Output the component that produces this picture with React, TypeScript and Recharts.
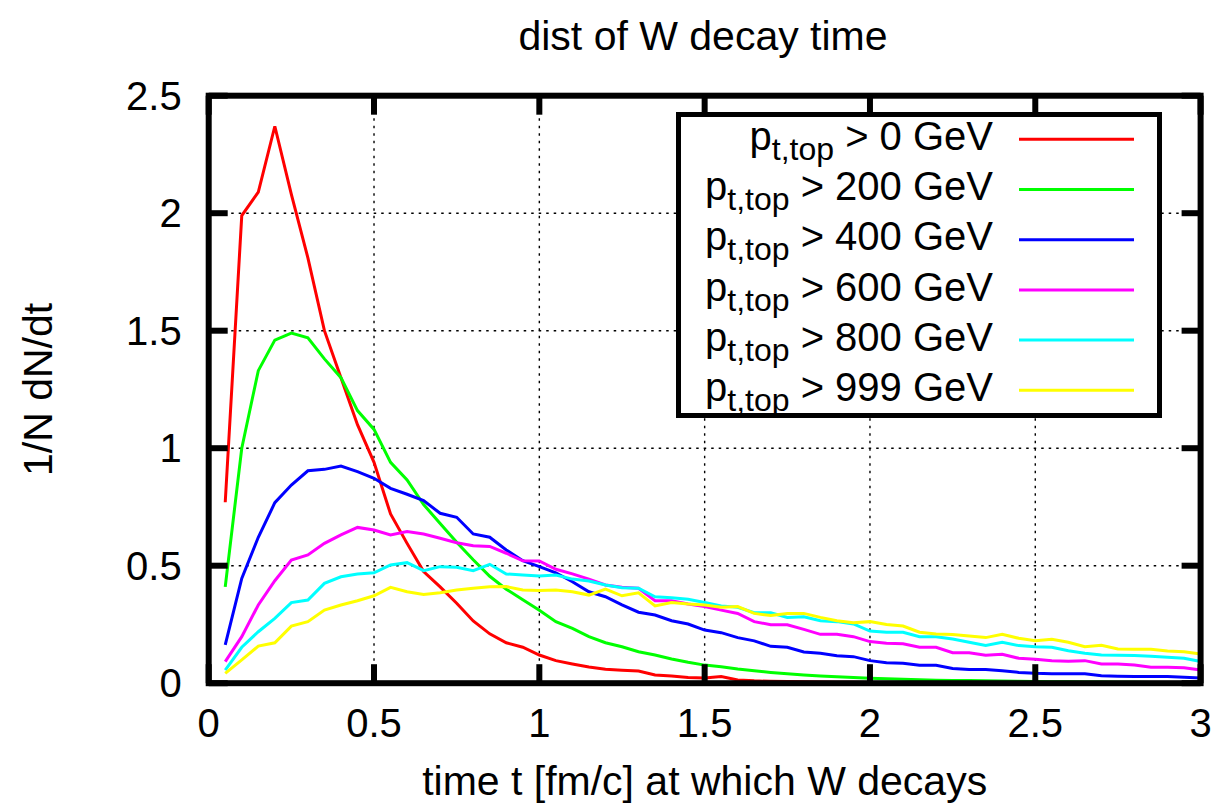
import React from 'react';
import { LineChart, Line, XAxis, YAxis, CartesianGrid } from 'recharts';

const T = [0.05,0.1,0.15,0.2,0.25,0.3,0.35,0.4,0.45,0.5,0.55,0.6,0.65,0.7,0.75,0.8,0.85,0.9,0.95,1,1.05,1.1,1.15,1.2,1.25,1.3,1.35,1.4,1.45,1.5,1.55,1.6,1.65,1.7,1.75,1.8,1.85,1.9,1.95,2,2.05,2.1,2.15,2.2,2.25,2.3,2.35,2.4,2.45,2.5,2.55,2.6,2.65,2.7,2.75,2.8,2.85,2.9,2.95,3];

const RED = [0.77,1.99,2.09,2.37,2.08,1.81,1.50,1.30,1.10,0.94,
0.72,0.595,0.475,0.41,0.34,0.265,0.21,0.172,0.153,0.12,
0.096,0.082,0.069,0.059,0.055,0.052,0.035,0.031,0.024,0.022,
0.028,0.014,0.01,0.008,0.007,0.006,0.005,0.004,0.004,0.003,
0.003,0.002,0.002,0.002,0.002,0.001,0.001,0.001,0.001,0.001,
0.001,0.001,0.001,0.0005,0.0005,0.0005,0.0005,0.0005,0.0005,0.0005];

const GREEN = [0.41,1.00,1.33,1.46,1.49,1.47,1.38,1.30,1.16,1.08,
0.94,0.865,0.76,0.68,0.60,0.525,0.455,0.40,0.355,0.31,
0.262,0.233,0.198,0.172,0.155,0.134,0.12,0.103,0.089,0.077,
0.07,0.06,0.053,0.046,0.04,0.035,0.031,0.027,0.024,0.021,
0.019,0.017,0.015,0.013,0.012,0.011,0.01,0.009,0.008,0.007,
0.006,0.006,0.005,0.005,0.004,0.004,0.003,0.003,0.003,0.003];

const BLUE = [0.163,0.446,0.621,0.768,0.843,0.904,0.91,0.924,0.90,0.872,
0.829,0.804,0.777,0.723,0.706,0.635,0.621,0.567,0.521,0.496,
0.47,0.432,0.389,0.368,0.333,0.302,0.29,0.266,0.252,0.226,
0.215,0.194,0.18,0.157,0.153,0.133,0.127,0.117,0.113,0.096,
0.087,0.085,0.076,0.076,0.063,0.058,0.058,0.053,0.046,0.042,
0.04,0.04,0.04,0.032,0.03,0.028,0.028,0.028,0.025,0.022];

const MAGENTA = [0.092,0.198,0.333,0.436,0.524,0.546,0.595,0.631,0.663,0.652,
0.631,0.645,0.635,0.617,0.598,0.585,0.582,0.553,0.521,0.52,
0.485,0.465,0.443,0.418,0.408,0.404,0.351,0.351,0.337,0.326,
0.311,0.297,0.262,0.249,0.249,0.229,0.208,0.208,0.198,0.177,
0.17,0.168,0.153,0.153,0.13,0.13,0.119,0.123,0.106,0.102,
0.096,0.093,0.096,0.082,0.082,0.077,0.068,0.068,0.066,0.056];

const CYAN = [0.056,0.153,0.219,0.276,0.343,0.354,0.425,0.453,0.465,0.47,
0.503,0.513,0.479,0.496,0.493,0.479,0.506,0.465,0.46,0.456,
0.46,0.443,0.435,0.418,0.406,0.404,0.368,0.364,0.357,0.343,
0.329,0.323,0.30,0.30,0.28,0.283,0.266,0.262,0.252,0.222,
0.217,0.217,0.198,0.198,0.188,0.174,0.161,0.174,0.16,0.155,
0.153,0.138,0.127,0.12,0.119,0.118,0.115,0.11,0.106,0.092];

const YELLOW = [0.042,0.099,0.158,0.172,0.243,0.262,0.311,0.333,0.351,0.372,
0.408,0.389,0.378,0.385,0.397,0.404,0.41,0.411,0.397,0.394,
0.397,0.389,0.375,0.40,0.372,0.385,0.329,0.343,0.337,0.333,
0.323,0.326,0.297,0.288,0.297,0.297,0.28,0.266,0.257,0.262,
0.25,0.243,0.217,0.209,0.207,0.201,0.194,0.208,0.191,0.181,
0.187,0.174,0.155,0.161,0.146,0.144,0.144,0.137,0.134,0.124];

const SERIES_KEYS = ['s0', 's200', 's400', 's600', 's800', 's999'];
const SERIES_CUTS = ['0', '200', '400', '600', '800', '999'];
const SERIES_VALUES = [RED, GREEN, BLUE, MAGENTA, CYAN, YELLOW];
const SERIES_COLORS = ['#ff0000', '#00ff00', '#0000ff', '#ff00ff', '#00ffff', '#ffff00'];

const X_TICKS = [0, 0.5, 1, 1.5, 2, 2.5, 3];
const Y_TICKS = [0, 0.5, 1, 1.5, 2, 2.5];

const TITLE = 'dist of W decay time';
const X_LABEL = 'time t [fm/c] at which W decays';
const Y_LABEL = '1/N dN/dt';

const W = 1219;
const H = 810;
const PLOT_LEFT = 208.7;
const PLOT_RIGHT = 1200.6;
const PLOT_TOP = 95.7;
const PLOT_BOTTOM = 683.2;
const TICK_LEN = 19;
const TICK_W = 6;
const FONT = "'Liberation Sans', Arial, Helvetica, sans-serif";

const rows = T.map((t, i) => {
  const r: any = { t };
  SERIES_KEYS.forEach((k, j) => { r[k] = SERIES_VALUES[j][i]; });
  return r;
});

// Tick marks drawn inward on both opposite sides, as in gnuplot (mirror ticks).
const XTick = (props: any) => {
  const { x, payload } = props;
  return (
    <g>
      <line x1={x} x2={x} y1={PLOT_BOTTOM} y2={PLOT_BOTTOM - TICK_LEN} stroke="#000" strokeWidth={TICK_W} />
      <line x1={x} x2={x} y1={PLOT_TOP} y2={PLOT_TOP + TICK_LEN} stroke="#000" strokeWidth={TICK_W} />
      <text x={x} y={PLOT_BOTTOM + 54} textAnchor="middle" fontSize={40} fontFamily={FONT} fill="#000" stroke="none">
        {String(payload.value)}
      </text>
    </g>
  );
};

const YTick = (props: any) => {
  const { y, payload } = props;
  return (
    <g>
      <line x1={PLOT_LEFT} x2={PLOT_LEFT + TICK_LEN} y1={y} y2={y} stroke="#000" strokeWidth={TICK_W} />
      <line x1={PLOT_RIGHT - TICK_LEN} x2={PLOT_RIGHT} y1={y} y2={y} stroke="#000" strokeWidth={TICK_W} />
      <text x={PLOT_LEFT - 27} y={y + 14} textAnchor="end" fontSize={40} fontFamily={FONT} fill="#000" stroke="none">
        {String(payload.value)}
      </text>
    </g>
  );
};

const LEG_LEFT = 676;
const LEG_TOP = 112;
const LEG_W = 486;
const LEG_H = 306;

export default function App() {
  return (
    <div style={{ position: 'absolute', left: 0, top: 0, width: W, height: H, background: '#fff' }}>
      <LineChart
        width={W}
        height={H}
        data={rows}
        margin={{ top: PLOT_TOP, right: W - PLOT_RIGHT, bottom: H - PLOT_BOTTOM - 60, left: 0 }}
      >
        <CartesianGrid stroke="#000" strokeWidth={1.4} strokeDasharray="2.5 5" />
        {SERIES_KEYS.map((k, j) => (
          <Line
            key={k}
            type="linear"
            dataKey={k}
            stroke={SERIES_COLORS[j]}
            strokeWidth={3}
            dot={false}
            activeDot={false}
            isAnimationActive={false}
          />
        ))}
        <XAxis
          dataKey="t"
          type="number"
          domain={[0, 3]}
          ticks={X_TICKS}
          interval={0}
          height={60}
          axisLine={false}
          tickLine={false}
          tickSize={0}
          tickMargin={0}
          tick={(p: any) => <XTick {...p} />}
        />
        <YAxis
          type="number"
          domain={[0, 2.5]}
          ticks={Y_TICKS}
          interval={0}
          width={PLOT_LEFT}
          axisLine={false}
          tickLine={false}
          tickSize={0}
          tickMargin={0}
          tick={(p: any) => <YTick {...p} />}
        />
      </LineChart>
      <svg width={W} height={H} style={{ position: 'absolute', left: 0, top: 0, pointerEvents: 'none' }}>
        <rect
          x={PLOT_LEFT}
          y={PLOT_TOP}
          width={PLOT_RIGHT - PLOT_LEFT}
          height={PLOT_BOTTOM - PLOT_TOP}
          fill="none"
          stroke="#000"
          strokeWidth={6}
        />
        <text x={703} y={50} textAnchor="middle" fontSize={41} fontFamily={FONT} fill="#000">{TITLE}</text>
        <text x={(PLOT_LEFT + PLOT_RIGHT) / 2} y={795} textAnchor="middle" fontSize={41} fontFamily={FONT} fill="#000">{X_LABEL}</text>
        <text
          x={52}
          y={(PLOT_TOP + PLOT_BOTTOM) / 2}
          textAnchor="middle"
          fontSize={41}
          fontFamily={FONT}
          fill="#000"
          transform={`rotate(-90 52 ${(PLOT_TOP + PLOT_BOTTOM) / 2})`}
        >
          {Y_LABEL}
        </text>
        <rect x={LEG_LEFT + 2.5} y={LEG_TOP + 2.5} width={LEG_W - 5} height={LEG_H - 5} fill="#fff" stroke="#000" strokeWidth={5} />
        {SERIES_CUTS.map((c, j) => {
          const base = 150 + j * 50.2;
          return (
            <g key={c}>
              <text x={993} y={base} textAnchor="end" fontSize={40} fontFamily={FONT} fill="#000">
                p<tspan fontSize={32} dy={10}>t,top</tspan><tspan dy={-10}>{' > ' + c + ' GeV'}</tspan>
              </text>
              <line x1={1019} x2={1134} y1={base - 10.7} y2={base - 10.7} stroke={SERIES_COLORS[j]} strokeWidth={3} />
            </g>
          );
        })}
      </svg>
    </div>
  );
}
